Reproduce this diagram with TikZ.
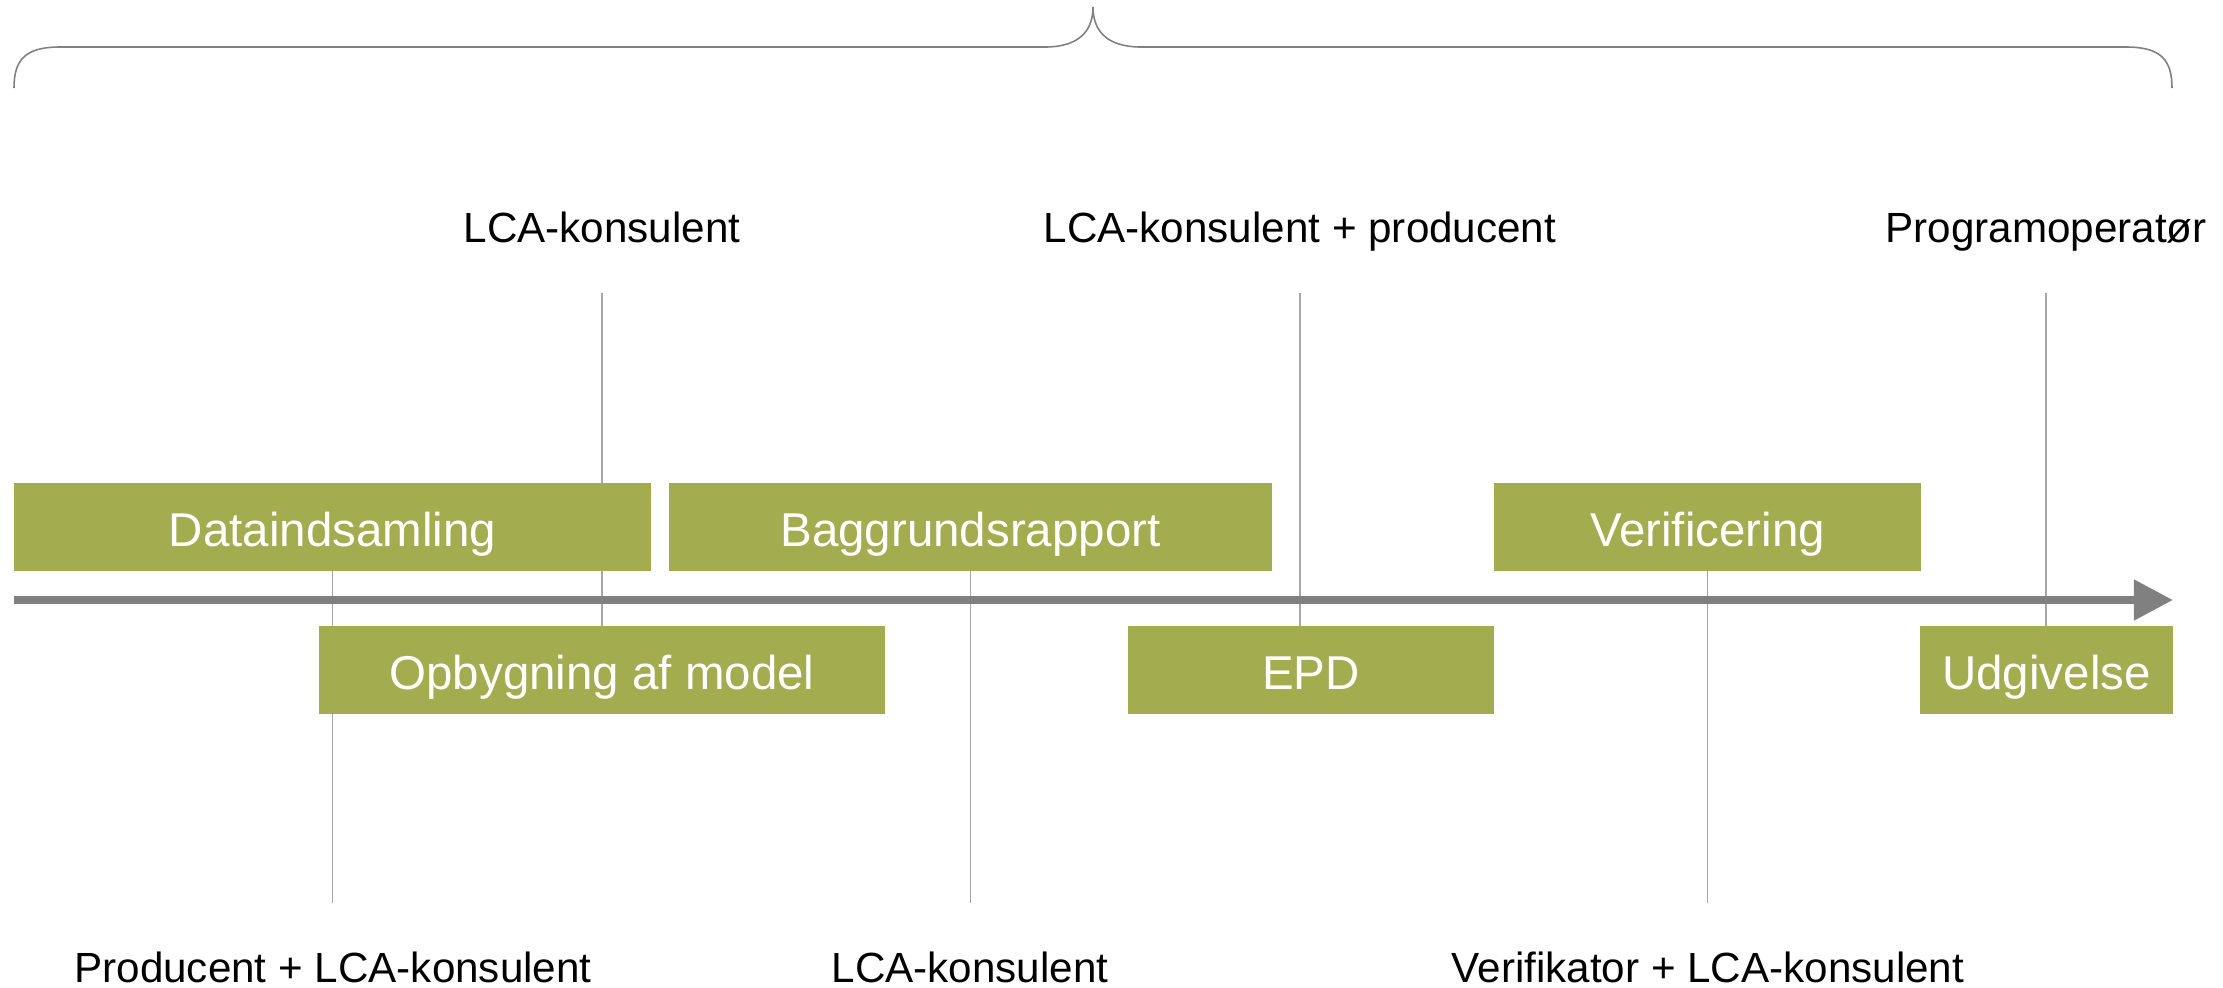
\documentclass[tikz,border=0pt]{standalone}
\usepackage{fontspec}
\setmainfont{Liberation Sans}
\usetikzlibrary{arrows.meta,backgrounds}
\definecolor{phasegreen}{RGB}{164,172,80}
\definecolor{axisgray}{RGB}{128,128,128}
\definecolor{linegray}{RGB}{166,166,166}
\tikzset{
	phase/.style={fill=phasegreen,text=white,minimum height=0.87cm,inner sep=0pt,
		text height=0.38cm,text depth=0pt,font=\fontsize{13.5}{16}\selectfont},
	role/.style={anchor=base,inner sep=0pt,font=\fontsize{12}{14}\selectfont},
	tick/.style={draw=linegray,line width=0.4pt},
	timeline/.style={draw=axisgray,line width=2.2pt,-{Triangle[length=0.39cm,width=0.39cm]}}
}
\begin{document}
\begin{tikzpicture}[x=0.01cm,y=-0.01cm]
	\useasboundingbox (0,0) rectangle (2223,987);
	% brace over the whole process
	\draw[axisgray,line width=0.45pt] (14,88) .. controls (14,60) and (25,47) .. (60,47) -- (1045,47)
		.. controls (1080,47) and (1093,30) .. (1093,7) .. controls (1093,30) and (1106,47) .. (1141,47)
		-- (2126,47) .. controls (2161,47) and (2172,60) .. (2172,88);

	\node[role] (lcaA) at (602,242) {LCA-konsulent};
	\node[role] (lcaprod) at (1300,242) {LCA-konsulent + producent};
	\node[role] (progop) at (2046,242) {Programoperatør};
	\node[role] (prodlca) at (333,982) {Producent + LCA-konsulent};
	\node[role] (lcaB) at (970,982) {LCA-konsulent};
	\node[role] (veriflca) at (1708,982) {Verifikator + LCA-konsulent};

	\node[phase,minimum width=6.37cm] (data) at (332.5,527) {Dataindsamling};
	\node[phase,minimum width=6.03cm] (bagg) at (970.5,527) {Baggrundsrapport};
	\node[phase,minimum width=4.27cm] (verif) at (1707.5,527) {Verificering};
	\node[phase,minimum width=5.66cm] (opb) at (602,670) {Opbygning af model};
	\node[phase,minimum width=3.66cm] (epd) at (1311,670) {EPD};
	\node[phase,minimum width=2.53cm] (udg) at (2046.5,670) {Udgivelse};

	\coordinate (tstart) at (14,600);
	\coordinate (tend) at (2173,600);
	\draw[timeline] (tstart) -- (tend);

	\begin{scope}[on background layer]
		\foreach \X/\B in {602/opb,1300/epd,2046/udg}
			\draw[tick] (\X,293) coordinate (top) -- (top |- \B.north);
		\foreach \B in {data,bagg,verif}
			\draw[tick] (\B.south) -- ++(0,332);
	\end{scope}
\end{tikzpicture}
\end{document}
